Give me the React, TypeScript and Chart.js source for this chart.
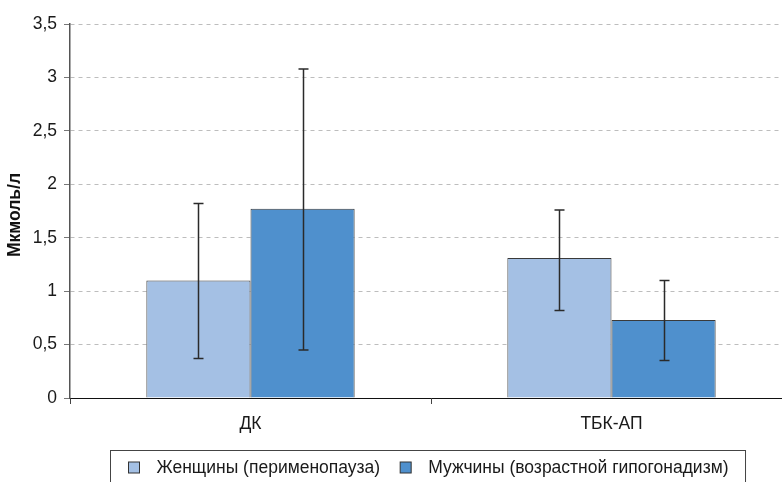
import React, { useEffect, useRef } from 'react';
import { Chart, registerables } from 'chart.js';

Chart.register(...registerables);

// Categories and series
const CATEGORIES = ['ДК', 'ТБК-АП'];
const SERIES_NAMES = ['Женщины (перименопауза)', 'Мужчины (возрастной гипогонадизм)'];
const WOMEN = [1.1, 1.31];
const MEN = [1.77, 0.73];
// Error bar limits (lower / upper)
const WOMEN_LOW = [0.37, 0.82];
const WOMEN_HIGH = [1.82, 1.76];
const MEN_LOW = [0.45, 0.35];
const MEN_HIGH = [3.08, 1.1];
// Y axis
const Y_MIN = 0;
const Y_MAX = 3.5;
const Y_STEP = 0.5;
const Y_TITLE = 'Мкмоль/л';

const COLORS = ['#A4C0E4', '#4F90CD'];
const FONT = '"Liberation Sans", Arial, sans-serif';
const TEXT_SIZE = 17.5;

const LOWS = [WOMEN_LOW, MEN_LOW];
const HIGHS = [WOMEN_HIGH, MEN_HIGH];

const errorBars = {
  id: 'errorBars',
  afterDatasetsDraw(chart: any) {
    const { ctx } = chart;
    const y = chart.scales.y;
    ctx.save();
    ctx.strokeStyle = '#2a2a2a';
    ctx.lineWidth = 1.5;
    chart.data.datasets.forEach((_: any, di: number) => {
      const meta = chart.getDatasetMeta(di);
      meta.data.forEach((bar: any, i: number) => {
        const x = Math.round(bar.x) + 0.5;
        const yLo = y.getPixelForValue(LOWS[di][i]);
        const yHi = y.getPixelForValue(HIGHS[di][i]);
        const cap = 5;
        ctx.beginPath();
        ctx.moveTo(x, yLo);
        ctx.lineTo(x, yHi);
        ctx.moveTo(x - cap, yHi);
        ctx.lineTo(x + cap, yHi);
        ctx.moveTo(x - cap, yLo);
        ctx.lineTo(x + cap, yLo);
        ctx.stroke();
      });
    });
    ctx.restore();
  },
};

// Rotated axis title, placed beside the value axis
const axisTitle = {
  id: 'axisTitle',
  afterDraw(chart: any) {
    const { ctx, chartArea } = chart;
    ctx.save();
    ctx.translate(15, (chartArea.top + chartArea.bottom) / 2 + 4);
    ctx.rotate(-Math.PI / 2);
    ctx.font = `bold ${TEXT_SIZE}px ${FONT}`;
    ctx.fillStyle = '#111';
    ctx.textAlign = 'center';
    ctx.textBaseline = 'middle';
    ctx.fillText(Y_TITLE, 0, 0);
    ctx.restore();
  },
};

const boxedLegend = {
  id: 'boxedLegend',
  afterDraw(chart: any) {
    const { ctx, chartArea } = chart;
    ctx.save();
    ctx.font = `${TEXT_SIZE}px ${FONT}`;
    ctx.textBaseline = 'middle';
    const sq = 11;
    const padL = 18;
    const sqGap = 17;
    const itemGap = 20;
    const padR = 17;
    const widths = SERIES_NAMES.map((t) => ctx.measureText(t).width);
    let total = padL + padR;
    widths.forEach((w, i) => {
      total += sq + sqGap + w + (i < widths.length - 1 ? itemGap : 0);
    });
    const cx = (chartArea.left + chartArea.right) / 2 - 3;
    const left = Math.round(cx - total / 2) + 0.5;
    const top = 450.5;
    ctx.strokeStyle = '#444';
    ctx.lineWidth = 1;
    ctx.strokeRect(left, top, total, 50);
    let x = left + padL;
    const midY = 468;
    SERIES_NAMES.forEach((name, i) => {
      ctx.fillStyle = COLORS[i];
      ctx.fillRect(x, midY - 6, sq, sq);
      ctx.strokeStyle = '#333';
      ctx.strokeRect(x, midY - 6, sq, sq);
      x += sq + sqGap;
      ctx.fillStyle = '#1a1a1a';
      ctx.fillText(name, x, midY);
      x += widths[i] + itemGap;
    });
    ctx.restore();
  },
};

export default function App() {
  const canvasRef = useRef<HTMLCanvasElement | null>(null);

  useEffect(() => {
    const canvas = canvasRef.current;
    if (!canvas) return;
    const chart = new Chart(canvas, {
      type: 'bar',
      data: {
        labels: CATEGORIES,
        datasets: [
          {
            label: SERIES_NAMES[0],
            data: WOMEN,
            backgroundColor: COLORS[0],
            borderColor: '#3a3a3a',
            borderWidth: 1,
            categoryPercentage: 0.577,
            barPercentage: 1,
          },
          {
            label: SERIES_NAMES[1],
            data: MEN,
            backgroundColor: COLORS[1],
            borderColor: '#3a3a3a',
            borderWidth: 1,
            categoryPercentage: 0.577,
            barPercentage: 1,
          },
        ],
      },
      options: {
        responsive: false,
        animation: false,
        devicePixelRatio: 1,
        layout: { padding: { top: 24, right: 8, bottom: 0, left: 0 } },
        plugins: {
          legend: { display: false },
          tooltip: { enabled: false },
        },
        scales: {
          x: {
            offset: true,
            grid: {
              display: true,
              drawOnChartArea: false,
              drawTicks: true,
              tickLength: 6,
              color: '#444',
              offset: true,
            },
            border: { display: true, color: '#111', width: 1 },
            ticks: {
              color: '#1a1a1a',
              padding: 10,
              font: { family: FONT, size: TEXT_SIZE },
            },
            afterFit(scale: any) {
              scale.height = 84;
            },
          },
          y: {
            min: Y_MIN,
            max: Y_MAX,
            ticks: {
              stepSize: Y_STEP,
              color: '#1a1a1a',
              padding: 7,
              font: { family: FONT, size: TEXT_SIZE },
              callback: (v: any) => String(v).replace('.', ','),
            },
            grid: {
              color: '#bdbdbd',
              lineWidth: 1,
              tickLength: 6,
              tickColor: '#777',
              tickBorderDash: [],
              drawTicks: true,
            },
            border: { display: true, color: '#555', width: 1.5, dash: [4, 4] },
            title: { display: false },
            afterFit(scale: any) {
              scale.width = 70;
            },
          },
        },
      },
      plugins: [errorBars, axisTitle, boxedLegend],
    } as any);
    return () => chart.destroy();
  }, []);

  return (
    <div
      style={{
        position: 'fixed',
        left: 0,
        top: 0,
        width: 782,
        height: 482,
        overflow: 'hidden',
        background: '#fff',
      }}
    >
      <canvas ref={canvasRef} width={800} height={482} style={{ width: 800, height: 482, display: 'block' }} />
    </div>
  );
}
